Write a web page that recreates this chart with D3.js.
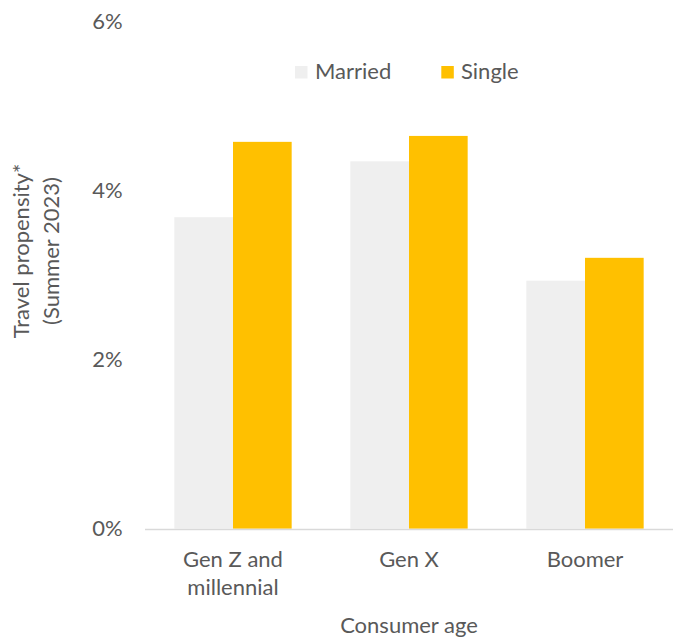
<!DOCTYPE html>
<html>
<head>
<meta charset="utf-8">
<script src="https://cdn.jsdelivr.net/npm/d3@7"></script>
<style>
  html, body { margin: 0; padding: 0; background: #ffffff; }
  svg { display: block; }
  text { font-family: Lato, "Open Sans", sans-serif; fill: #595959; }
</style>
</head>
<body>
<svg id="chart" width="679" height="637"></svg>
<script>
const categories = [["Gen Z and", "millennial"], ["Gen X"], ["Boomer"]];
const categoryKeys = ["Gen Z and millennial", "Gen X", "Boomer"];
const seriesNames = ["Married", "Single"];
const married = [3.68, 4.34, 2.93];
const single = [4.57, 4.64, 3.20];
const yTicks = [0, 2, 4, 6];
const yTitle = ["Travel propensity*", "(Summer 2023)"];
const xTitle = "Consumer age";
const colors = { Married: "#EFEFEF", Single: "#FFC000" };

const values = { Married: married, Single: single };
const svg = d3.select("#chart");
const fontSize = 22;

const x = d3.scaleBand().domain(categoryKeys).range([145, 673])
  .paddingInner(1/3).paddingOuter(1/6);
const xs = d3.scaleBand().domain(seriesNames).range([0, x.bandwidth()]).padding(0);
const y = d3.scaleLinear().domain([0, 6]).range([528.7, 20.8]);

// bars
seriesNames.forEach(s => {
  svg.append("g").selectAll("rect").data(categoryKeys).join("rect")
    .attr("x", (c) => x(c) + xs(s))
    .attr("width", xs.bandwidth())
    .attr("y", (c, i) => y(values[s][i]))
    .attr("height", (c, i) => y(0) - y(values[s][i]))
    .attr("fill", colors[s]);
});

// x axis line
svg.append("line")
  .attr("x1", x.range()[0]).attr("x2", x.range()[1])
  .attr("y1", y(0) + 0.8).attr("y2", y(0) + 0.8)
  .attr("stroke", "#D9D9D9").attr("stroke-width", 1.5);

// y tick labels
svg.append("g").selectAll("text").data(yTicks).join("text")
  .attr("x", 122.7)
  .attr("y", d => y(d))
  .attr("dy", "0.35em")
  .attr("text-anchor", "end")
  .attr("font-size", fontSize)
  .text(d => d + "%");

// x category labels
const catG = svg.append("g").selectAll("text").data(categoryKeys).join("text")
  .attr("text-anchor", "middle")
  .attr("font-size", fontSize)
  .attr("y", 567.3);
catG.each(function(c, i) {
  const t = d3.select(this);
  categories[i].forEach((line, j) => {
    t.append("tspan").attr("x", x(c) + x.bandwidth() / 2)
      .attr("y", 567.3 + j * 28).text(line);
  });
});

// x title
svg.append("text")
  .attr("x", (x.range()[0] + x.range()[1]) / 2)
  .attr("y", 633.3)
  .attr("text-anchor", "middle")
  .attr("font-size", fontSize)
  .text(xTitle);

// y title
const yt = svg.append("text")
  .attr("transform", "translate(0,251) rotate(-90)")
  .attr("text-anchor", "middle")
  .attr("font-size", fontSize);
yTitle.forEach((line, j) => {
  yt.append("tspan").attr("x", 0).attr("y", 29 + j * 29.5).text(line);
});

// legend
const legend = svg.append("g");
const legendPos = [{ sx: 295, tx: 315 }, { sx: 441.3, tx: 461 }];
seriesNames.forEach((s, i) => {
  legend.append("rect")
    .attr("x", legendPos[i].sx).attr("y", 66)
    .attr("width", 12.5).attr("height", 12.5)
    .attr("fill", colors[s]);
  legend.append("text")
    .attr("x", legendPos[i].tx).attr("y", 79.3)
    .attr("font-size", fontSize)
    .text(s);
});
</script>
</body>
</html>
